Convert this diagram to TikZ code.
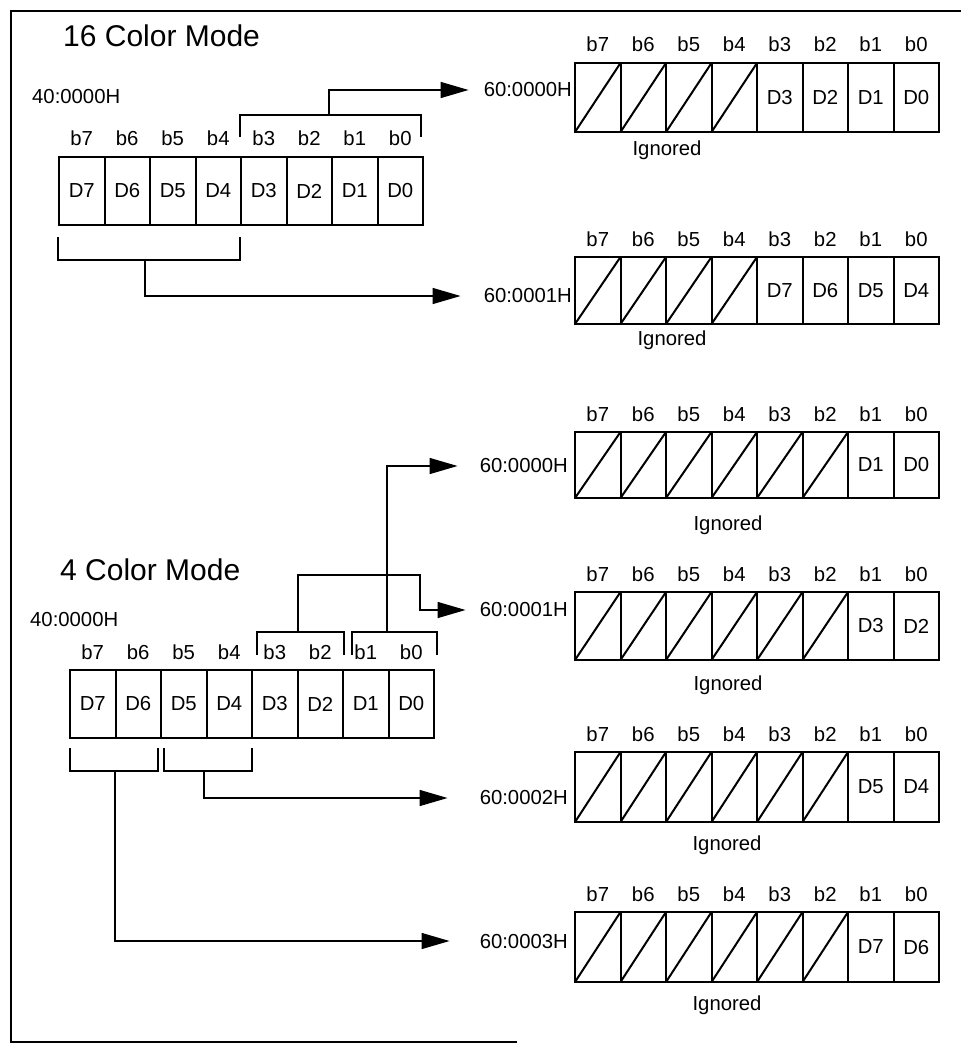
\documentclass[tikz,border=0pt]{standalone}
\usepackage{fontspec}
\setmainfont{Liberation Sans}
\usetikzlibrary{arrows.meta}
\tikzset{
  txt/.style={inner sep=0pt, font=\fontsize{20.3}{23}\selectfont},
  bitlbl/.style={txt, anchor=base},
  cell/.style={draw, line width=2pt, minimum width=45.5pt, inner sep=0pt, outer sep=0pt, font=\fontsize{20.3}{23}\selectfont},
  outerbox/.style={draw, line width=2.8pt},
  diag/.style={line width=2pt},
  brk/.style={line width=1.4pt},
  conn/.style={line width=1.4pt, -{Triangle[length=28pt,width=16pt]}},
  frame/.style={line width=2.8pt},
  title/.style={inner sep=0pt, anchor=base west, font=\fontsize{30}{35}\selectfont}
}
\def\lblx{572}
% #1 prefix, #2 top, #3 bottom, #4 number of ignored cells, #5 contents,
% #6 address text, #7 address centre y, #8 "Ignored" x, #9 "Ignored" baseline
\newcommand\destrow[9]{%
  \foreach \k in {0,...,7} {
    \pgfmathtruncatemacro\bit{7-\k}
    \node[cell, minimum height={(#3)-(#2)}] (#1c\bit) at ({575+45.5*\k+22.75},{((#2)+(#3))/2}) {};
    \node[bitlbl] (#1b\bit) at ({575+45.5*\k+22.75},{(#2)-11}) {b\bit};
    \ifnum\k<#4\relax
      \draw[diag] (#1c\bit.south west) -- (#1c\bit.north east);
    \fi
  }
  \foreach \t [count=\j from #4] in {#5} {
    \pgfmathtruncatemacro\bit{7-\j}
    \node[txt] (#1d\bit) at (#1c\bit) {\t};
  }
  \draw[outerbox] (#1c7.north west) rectangle (#1c0.south east);
  \node[txt, anchor=east] (#1lbl) at (\lblx,#7) {#6};
  \node[txt, anchor=base] (#1ign) at (#8,#9) {Ignored};
}
% source register: #1 prefix, #2 left x, #3 top, #4 bottom
\newcommand\srcrow[4]{%
  \foreach \k in {0,...,7} {
    \pgfmathtruncatemacro\bit{7-\k}
    \node[cell, minimum height={(#4)-(#3)}] (#1c\bit) at ({#2+45.5*\k+22.75},{((#3)+(#4))/2}) {D\bit};
    \node[bitlbl] (#1b\bit) at ({#2+45.5*\k+22.75},{(#3)-11}) {b\bit};
  }
  \draw[outerbox] (#1c7.north west) rectangle (#1c0.south east);
}
\begin{document}
\begin{tikzpicture}[x=1pt,y=-1pt]
\useasboundingbox (0,0) rectangle (961,1046);
% frame
\draw[frame] (961,11) -- (11,11) -- (11,1042) -- (517,1042);

% ===== 16 Color Mode =====
\node[title] (t16) at (63,47) {16 Color Mode};
\node[txt, anchor=base west] (a16) at (32,103) {40:0000H};
\srcrow{S}{59}{157}{225}

\destrow{P}{63}{132}{4}{D3,D2,D1,D0}{60:0000H}{90}{667}{155}
\destrow{Q}{257}{324}{4}{D7,D6,D5,D4}{60:0001H}{296}{672}{345}

% brackets 16 colour
\draw[brk] (240,137) -- (240,115) -- (421,115) -- (421,137);
\coordinate (tb16) at (329,115);
\draw[brk] (58,237) -- (58,260) -- (240,260) -- (240,237);
\coordinate (bb16) at (145,260);
\draw[conn, shorten >=15pt] (tb16) |- (Plbl.west);
\draw[conn, shorten >=23pt] (bb16) |- (Qlbl.west);

% ===== 4 Color Mode =====
\node[title] (t4) at (60,580) {4 Color Mode};
\node[txt, anchor=base west] (a4) at (30,626) {40:0000H};
\srcrow{F}{70}{670}{738}

\def\lblx{568}
\destrow{R}{432}{498}{6}{D1,D0}{60:0000H}{466}{728}{530}
\destrow{U}{592}{660}{6}{D3,D2}{60:0001H}{610}{728}{690}
\destrow{V}{752}{822}{6}{D5,D4}{60:0002H}{798}{727}{850}
\destrow{W}{912}{982}{6}{D7,D6}{60:0003H}{941}{727}{1010}

% brackets 4 colour
\draw[brk] (257,655) -- (257,632) -- (344,632) -- (344,655);
\coordinate (ta4) at (298,632);
\draw[brk] (352,655) -- (352,632) -- (437,632) -- (437,655);
\coordinate (tb4) at (387,632);
\draw[brk] (70,748) -- (70,771) -- (158,771) -- (158,748);
\coordinate (bc4) at (115,771);
\draw[brk] (164,748) -- (164,771) -- (252,771) -- (252,748);
\coordinate (bd4) at (204,771);
\coordinate (k1) at (420,575);

\draw[conn, shorten >=22pt] (tb4) |- (Rlbl.west);
\draw[conn, shorten >=14pt] (ta4) |- (k1) |- (Ulbl.west);
\draw[conn, shorten >=32pt] (bd4) |- (Vlbl.west);
\draw[conn, shorten >=30pt] (bc4) |- (Wlbl.west);
\end{tikzpicture}
\end{document}
